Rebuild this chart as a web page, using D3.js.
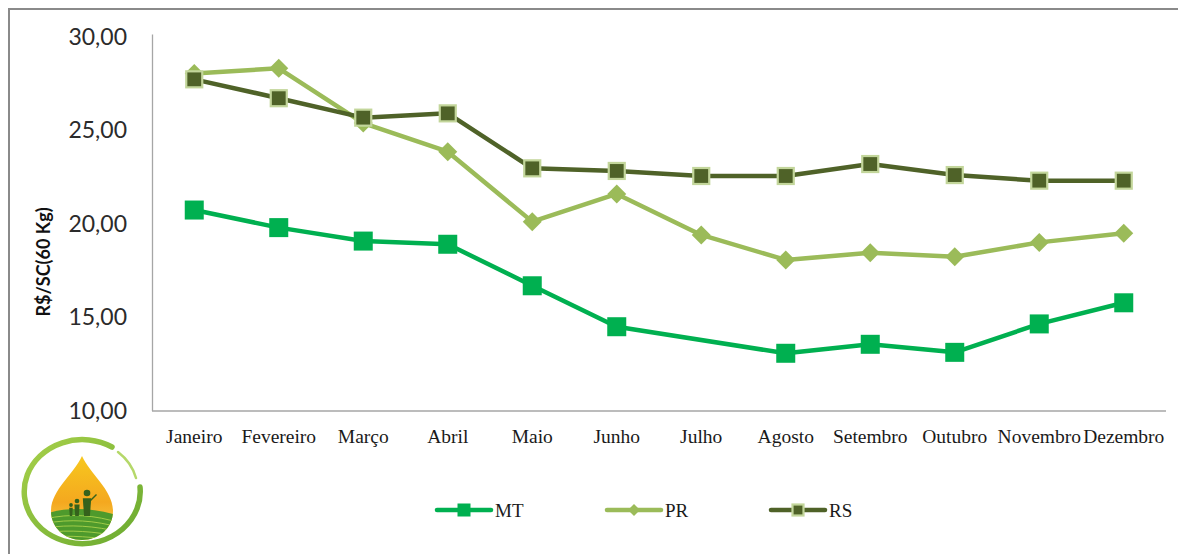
<!DOCTYPE html>
<html>
<head>
<meta charset="utf-8">
<script src="https://cdn.jsdelivr.net/npm/d3@7"></script>
<style>
  body { margin: 0; background: #fff; }
  svg { display: block; }
</style>
</head>
<body>
<svg id="chart" width="1178" height="554"></svg>
<script>
// meses e precos (R$/sc 60 kg)
const months = ["Janeiro", "Fevereiro", "Março", "Abril", "Maio", "Junho", "Julho",
	"Agosto", "Setembro", "Outubro", "Novembro", "Dezembro"];
const mtValues = [20.72, 19.78, 19.06, 18.89, 16.67, 14.48, null, 13.06, 13.54, 13.11, 14.63, 15.76];
const prValues = [28.02, 28.30, 25.37, 23.84, 20.10, 21.58, 19.39, 18.05, 18.44, 18.22, 18.99, 19.48];
const rsValues = [27.71, 26.70, 25.66, 25.89, 22.95, 22.81, 22.54, 22.54, 23.18, 22.59, 22.29, 22.29];
const yTicks = [10, 15, 20, 25, 30];

const seriesList = [
	{name: "MT", values: mtValues, color: "#00B050", marker: "square", size: 19, stroke: null},
	{name: "PR", values: prValues, color: "#9BBB59", marker: "diamond", size: 19, stroke: null},
	{name: "RS", values: rsValues, color: "#4F6228", marker: "square", size: 16, stroke: "#C3D69B"}
];

const svg = d3.select("#chart");

// moldura
svg.append("rect")
	.attr("x", 9).attr("y", 9)
	.attr("width", 1200).attr("height", 600)
	.style("fill", "none")
	.style("stroke", "#8a8a8a")
	.style("stroke-width", 2);

const plotLeft = 152, plotRight = 1166, plotTop = 36.5, plotBottom = 410.5;

const x = d3.scaleBand().domain(months).range([plotLeft, plotRight]);
const y = d3.scaleLinear().domain([10, 30]).range([plotBottom, plotTop]);
const cx = m => x(m) + x.bandwidth() / 2;

// eixos
svg.append("line")
	.attr("x1", plotLeft + 0.5).attr("x2", plotLeft + 0.5)
	.attr("y1", plotTop - 2).attr("y2", plotBottom + 0.5)
	.style("stroke", "#a6a6a6").style("stroke-width", 1.3);
svg.append("line")
	.attr("x1", plotLeft).attr("x2", plotRight)
	.attr("y1", plotBottom + 0.5).attr("y2", plotBottom + 0.5)
	.style("stroke", "#a6a6a6").style("stroke-width", 1.3);

svg.append("g").selectAll("text")
	.data(yTicks)
	.join("text")
	.attr("x", 127)
	.attr("y", d => y(d))
	.attr("dy", "0.36em")
	.attr("text-anchor", "end")
	.attr("font-family", "Lato, 'Open Sans', sans-serif")
	.attr("font-size", 23)
	.style("fill", "#2b2b2b")
	.text(d => d3.format(".2f")(d).replace(".", ","));

svg.append("g").selectAll("text")
	.data(months)
	.join("text")
	.attr("x", d => cx(d))
	.attr("y", 443)
	.attr("text-anchor", "middle")
	.attr("font-family", "'Liberation Serif', 'Times New Roman', serif")
	.attr("font-size", 19.5)
	.style("fill", "#1a1a1a")
	.text(d => d);

svg.append("text")
	.attr("transform", "translate(50,262) rotate(-90)")
	.attr("text-anchor", "middle")
	.attr("font-family", "Lato, 'Open Sans', sans-serif")
	.attr("font-weight", "bold")
	.attr("font-size", 18)
	.style("fill", "#111")
	.text("R$/SC(60 Kg)");

function drawMarker(g, kind, px, py, size, fill, stroke) {
	if (kind === "square") {
		g.append("rect")
			.attr("x", px - size / 2).attr("y", py - size / 2)
			.attr("width", size).attr("height", size)
			.style("fill", fill)
			.style("stroke", stroke || "none")
			.style("stroke-width", stroke ? 2.2 : 0);
	} else {
		const h = size / 2;
		g.append("path")
			.attr("d", `M${px},${py - h}L${px + h},${py}L${px},${py + h}L${px - h},${py}Z`)
			.style("fill", fill);
	}
}

// series
const line = d3.line()
	.defined(d => d.v !== null)
	.x(d => cx(d.m))
	.y(d => y(d.v));

seriesList.forEach(s => {
	const pts = months.map((m, i) => ({m: m, v: s.values[i]}));
	const g = svg.append("g");
	g.append("path")
		.datum(pts.filter(d => d.v !== null))   // linha liga os pontos com falha
		.attr("d", line)
		.style("fill", "none")
		.style("stroke", s.color)
		.style("stroke-width", 4.5)
		.style("stroke-linejoin", "round");
	pts.filter(d => d.v !== null).forEach(d => {
		drawMarker(g, s.marker, cx(d.m), y(d.v), s.size, s.color, s.stroke);
	});
});

// legenda
const legendX = [437, 607, 771];
const legend = svg.append("g");
seriesList.forEach((s, i) => {
	const lx = legendX[i], ly = 510;
	legend.append("line")
		.attr("x1", lx).attr("x2", lx + 54)
		.attr("y1", ly).attr("y2", ly)
		.style("stroke", s.color)
		.style("stroke-width", 4.5)
		.style("stroke-linecap", "round");
	drawMarker(legend, s.marker, lx + 27, ly, s.marker === "square" ? (s.stroke ? 11 : 13) : 12, s.color, s.stroke);
	legend.append("text")
		.attr("x", lx + 58)
		.attr("y", ly + 6.5)
		.attr("font-family", "'Liberation Serif', 'Times New Roman', serif")
		.attr("font-size", 19)
		.style("fill", "#1a1a1a")
		.text(s.name);
});

// logotipo (gota com campo)
const defs = svg.append("defs");
const dropGrad = defs.append("linearGradient").attr("id", "dropGrad")
	.attr("x1", 0).attr("y1", 0).attr("x2", 0).attr("y2", 1);
dropGrad.append("stop").attr("offset", "0%").attr("stop-color", "#F7C81E");
dropGrad.append("stop").attr("offset", "55%").attr("stop-color", "#F4A81F");
dropGrad.append("stop").attr("offset", "100%").attr("stop-color", "#F9D85A");
const ringGrad = defs.append("linearGradient").attr("id", "ringGrad")
	.attr("x1", 0).attr("y1", 0).attr("x2", 1).attr("y2", 1);
ringGrad.append("stop").attr("offset", "0%").attr("stop-color", "#A7D04A");
ringGrad.append("stop").attr("offset", "100%").attr("stop-color", "#6AAA30");
const dropPath = "M82,456 C74,474 51,490 51,511 C51,528 65,540 82,540 C99,540 113,528 113,511 C113,490 90,474 82,456 Z";
defs.append("clipPath").attr("id", "dropClip")
	.append("path").attr("d", dropPath);

const logo = svg.append("g");
// anel: quase completo, com abertura no alto a direita
logo.append("path")
	.attr("d", "M112,447 A58,52 0 1,0 140,487")
	.style("fill", "none")
	.style("stroke", "url(#ringGrad)")
	.style("stroke-width", 5.5)
	.style("stroke-linecap", "round");
logo.append("path")
	.attr("d", "M118,452 A56,50 0 0,1 136,478")
	.style("fill", "none")
	.style("stroke", "#B5D86A")
	.style("stroke-width", 2.5)
	.style("stroke-linecap", "round");
logo.append("path")
	.attr("d", dropPath)
	.style("fill", "url(#dropGrad)");
const field = logo.append("g").attr("clip-path", "url(#dropClip)");
field.append("path")
	.attr("d", "M45,514 C65,507 92,507 120,516 L120,545 L45,545 Z")
	.style("fill", "#4E9A2C");
[0, 1, 2, 3, 4].forEach(k => {
	field.append("path")
		.attr("d", `M45,${519 + k * 4.5} C70,${513 + k * 5.5} 95,${515 + k * 5.5} 120,${523 + k * 4.5}`)
		.style("fill", "none")
		.style("stroke", "#A9D14C")
		.style("stroke-width", 0.9);
});
// silhuetas da familia
const people = [{px: 71, h: 9}, {px: 77, h: 13}, {px: 87, h: 21}];
people.forEach(p => {
	field.append("circle").attr("cx", p.px).attr("cy", 514 - p.h).attr("r", p.h * 0.12 + 0.8)
		.style("fill", "#35621C");
	field.append("path")
		.attr("d", `M${p.px - p.h * 0.2},${515 - p.h * 0.8} L${p.px + p.h * 0.2},${515 - p.h * 0.8} L${p.px + p.h * 0.14},${516} L${p.px - p.h * 0.14},${516} Z`)
		.style("fill", "#35621C");
});
field.append("path")
	.attr("d", "M90,500 L96,494 L97,495 L91,501 Z")
	.style("fill", "#35621C");
</script>
</body>
</html>
